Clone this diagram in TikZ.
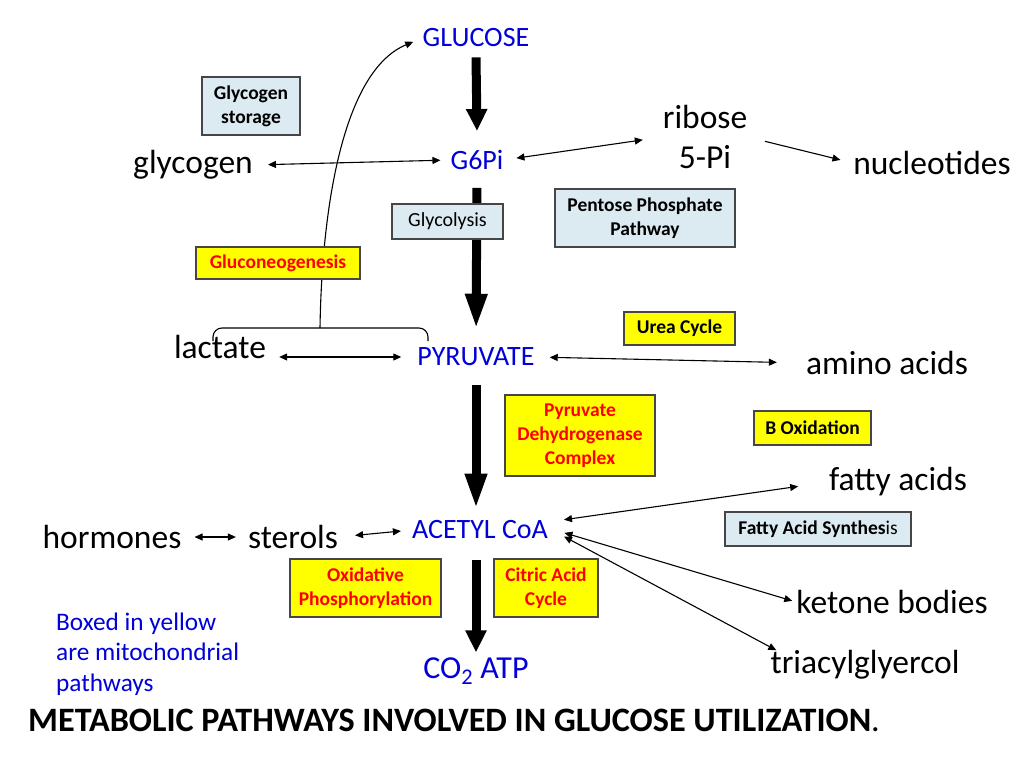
\documentclass[tikz,border=0pt]{standalone}
\usepackage{fontspec}
\setmainfont{Carlito}
\usetikzlibrary{arrows.meta}

\definecolor{chemblue}{RGB}{0,0,215}
\definecolor{mitored}{RGB}{255,0,0}
\definecolor{mitoyellow}{RGB}{255,255,0}
\definecolor{paleblue}{RGB}{220,234,241}
\definecolor{boxline}{RGB}{70,70,70}

\tikzset{
        chem/.style={inner sep=0pt, text=chemblue, font=\fontsize{28}{33}\selectfont},
        big/.style={inner sep=0pt, font=\fontsize{33.5}{40}\selectfont},
        pathbox/.style={draw=boxline, line width=1.2pt, inner sep=2pt, align=center,
                font=\bfseries\fontsize{19.5}{24}\selectfont},
        infobox/.style={pathbox, fill=paleblue},
        mitobox/.style={pathbox, fill=mitoyellow},
        mito/.style={mitobox, text=mitored},
        link/.style={line width=1.1pt, {Triangle[length=8pt,width=7pt]}-{Triangle[length=8pt,width=7pt]}},
        oneway/.style={line width=1.1pt, -{Triangle[length=8pt,width=7pt]}},
        bigarrow/.style={line width=9pt, -{Triangle[width=20pt,length=#1]}},
        bigarrow/.default=22pt
}

\begin{document}
\begin{tikzpicture}[x=1pt, y=-1pt]
        \fill[white] (0,0) rectangle (1024,768);
        \useasboundingbox (0,0) rectangle (1024,768);

        % main chain
        \node[chem] (glucose) at (476,38) {GLUCOSE};
        \node[chem] (g6pi) at (477,160) {G6Pi};
        \node[chem] (pyruvate) at (476,357) {PYRUVATE};
        \node[chem] (acetyl) at (480,530) {ACETYL CoA};
        \node[chem, font=\fontsize{32}{38}\selectfont] (co2) at (476,671) {CO\textsubscript{2} ATP};

        \node[big] (glycogen) at (193,165) {glycogen};
        \node[big, align=center] (ribose) at (705,137) {ribose\\5-Pi};
        \node[big] (nucleotides) at (932,163) {nucleotides};
        \node[big] (lactate) at (220,347) {lactate};
        \node[big] (amino) at (887,363) {amino acids};
        \node[big] (fatty) at (898,482) {fatty acids};
        \node[big] (hormones) at (112,537) {hormones};
        \node[big] (sterols) at (293,537) {sterols};
        \node[big] (ketone) at (892,602) {ketone bodies};
        \node[big] (triacyl) at (865,665) {triacylglyercol};

        \draw[bigarrow] (glucose.south) ++(0,10) -- ([yshift=19pt]g6pi.north);
        \draw[bigarrow=36pt, shorten <=18pt, shorten >=18pt] (g6pi.south) -- (pyruvate.north);
        \draw[bigarrow=36pt, shorten <=19pt, shorten >=11pt] (pyruvate.south) -- (pyruvate.south |- acetyl.north);
        \draw[bigarrow, shorten <=21pt, shorten >=5pt] (acetyl.south -| pyruvate) -- (co2.north);

        \draw[link, shorten <=15pt, shorten >=10pt] (glycogen.east) -- (g6pi.west);
        \draw[link, shorten <=13pt, shorten >=20pt] (g6pi.east) -- (ribose.west);
        \draw[oneway, shorten <=18pt, shorten >=13pt] (ribose.east) -- (nucleotides.west);
        \draw[link, shorten <=13pt, shorten >=16pt] (lactate.east |- pyruvate) -- (pyruvate.west);
        \draw[link, shorten <=15pt, shorten >=29pt] (pyruvate.east) -- (amino.west);
        \draw[link, shorten <=13pt, shorten >=12pt] (hormones.east) -- (sterols.west);
        \draw[link, shorten <=17pt, shorten >=11pt] (sterols.east) -- (acetyl.west);
        \draw[link, shorten <=16pt, shorten >=31pt] ([yshift=8pt]acetyl.east) -- (fatty.west);
        \draw[link, shorten <=17pt, shorten >=4pt] ([yshift=2pt]acetyl.east) -- (ketone.west);
        \draw[link, shorten <=18pt] ([yshift=2pt]acetyl.east) -- ([xshift=6pt]triacyl.north west);

        % lactate and pyruvate back to glucose
        \coordinate (brace_top) at (320,328);
        \draw[line width=1.1pt, rounded corners=9pt] (213,341) -- (213,328) -- (428,328) -- (428,341);
        \draw[oneway, shorten >=10pt] (brace_top) .. controls (322,200) and (345,70) .. (glucose.west);

        % pathway boxes
        \node[infobox, minimum width=98pt, minimum height=58pt] (storage) at (251,106) {Glycogen\\storage};
        \node[infobox, minimum width=180pt, minimum height=58pt] (pentose) at (645,218) {Pentose Phosphate\\Pathway};
        \node[infobox, font=\fontsize{20}{24}\selectfont, minimum width=111pt, minimum height=35pt] (glycolysis) at (447.5,221.5) {Glycolysis};
        \node[mito, minimum width=164pt, minimum height=32pt] (gluconeo) at (278,263) {Gluconeogenesis};
        \node[mitobox, minimum width=111pt, minimum height=33pt] (urea) at (679.5,328.5) {Urea Cycle};
        \node[mito, minimum width=150pt, minimum height=81pt] (pdh) at (580,435.5) {Pyruvate\\Dehydrogenase\\Complex};
        \node[mitobox, minimum width=117pt, minimum height=34pt] (boxidation) at (812.5,428) {B Oxidation};
        \node[infobox, minimum width=186pt, minimum height=34pt] (fasynth) at (818,529) {Fatty Acid Synthes\textmd{is}};
        \node[mito, minimum width=151pt, minimum height=58pt] (oxphos) at (365.5,588) {Oxidative\\Phosphorylation};
        \node[mito, minimum width=104pt, minimum height=58pt] (citric) at (546,588) {Citric Acid\\Cycle};

        \node[anchor=west, align=left, inner sep=0pt, text=chemblue, font=\fontsize{25.3}{30.5}\selectfont] (note) at (56,654) {Boxed in yellow\\are mitochondrial\\pathways};
        \node[anchor=west, inner sep=0pt, font=\bfseries\fontsize{34.2}{40}\selectfont] (title) at (28,720) {METABOLIC PATHWAYS INVOLVED IN GLUCOSE UTILIZATION\textmd{.}};
\end{tikzpicture}
\end{document}
